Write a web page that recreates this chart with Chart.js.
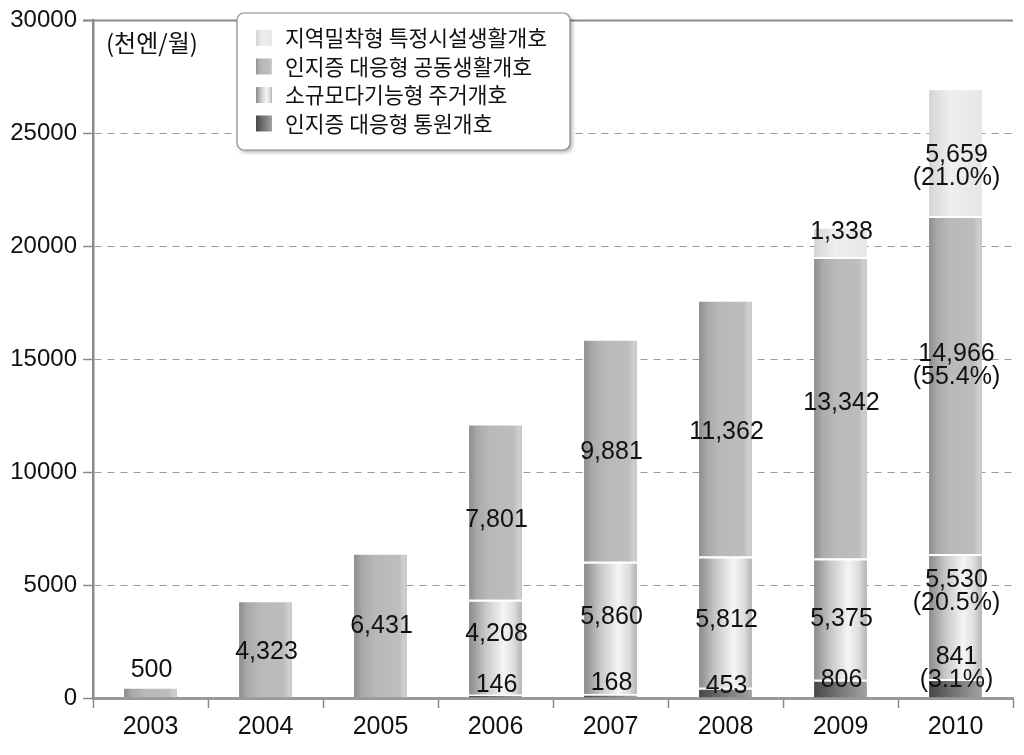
<!DOCTYPE html>
<html>
<head>
<meta charset="utf-8">
<script src="https://cdn.jsdelivr.net/npm/chart.js@4"></script>
<style>
  html, body { margin: 0; padding: 0; background: #fff; }
  #wrap { width: 1024px; height: 755px; }
</style>
</head>
<body>
<div id="wrap"><canvas id="barChart"></canvas></div>
<script>
// data
const years = ['2003', '2004', '2005', '2006', '2007', '2008', '2009', '2010'];
const seriesNames = ['인지증 대응형 통원개호', '소규모다기능형 주거개호', '인지증 대응형 공동생활개호', '지역밀착형 특정시설생활개호'];
const tongwon = [null, null, null, 146, 168, 453, 806, 841];
const jugeo = [null, null, null, 4208, 5860, 5812, 5375, 5530];
const gongdong = [500, 4323, 6431, 7801, 9881, 11362, 13342, 14966];
const teukjeong = [null, null, null, null, null, null, 1338, 5659];
const yTicks = [0, 5000, 10000, 15000, 20000, 25000, 30000];
const unitLabel = '(천엔/월)';
const pctYear = '2010';

const NUM_FONT = "'Liberation Sans', Arial, sans-serif";
const KR_FONT = "'Noto Sans CJK KR', 'Noto Sans', sans-serif";
const BAR_PCT = 0.46;

// gradient stops per series
const stops = [
  [[0, '#474747'], [0.5, '#777777'], [1, '#a2a2a2']],
  [[0, '#8a8a8a'], [0.3, '#c6c6c6'], [0.65, '#f5f5f5'], [0.85, '#dddddd'], [1, '#b3b3b3']],
  [[0, '#8c8c8c'], [0.15, '#a9a9a9'], [0.4, '#b9b9b9'], [0.85, '#bdbdbd'], [0.94, '#d0d0d0'], [1, '#c3c3c3']],
  [[0, '#d4d4d4'], [0.4, '#efefef'], [1, '#e6e6e6']]
];
const flat = ['#666', '#ddd', '#b8b8b8', '#eaeaea'];

function makeGrad(ctx, x0, x1, si) {
  const g = ctx.createLinearGradient(x0, 0, x1, 0);
  stops[si].forEach(s => g.addColorStop(s[0], s[1]));
  return g;
}

function barFill(si) {
  return function(c) {
    const chart = c.chart;
    if (!chart.chartArea || !chart.scales.x) return flat[si];
    const xs = chart.scales.x;
    const cx = xs.getPixelForValue(c.dataIndex);
    const w = xs.width / years.length * BAR_PCT;
    return makeGrad(chart.ctx, cx - w / 2, cx + w / 2, si);
  };
}

const labelsPlugin = {
  id: 'segLabels',
  afterDatasetsDraw(chart, args, opts) {
    const ctx = chart.ctx;
    ctx.save();
    ctx.font = '25px ' + NUM_FONT;
    ctx.fillStyle = '#111';
    ctx.textAlign = 'center';
    ctx.textBaseline = 'middle';
    const pi = years.indexOf(pctYear);
    let total = 0;
    chart.data.datasets.forEach(ds => { total += ds.data[pi] || 0; });
    chart.data.datasets.forEach((ds, di) => {
      const meta = chart.getDatasetMeta(di);
      meta.data.forEach((bar, i) => {
        const v = ds.data[i];
        if (v == null) return;
        const lines = [v.toLocaleString('en-US')];
        if (i === pi) lines.push('(' + (v / total * 100).toFixed(1) + '%)');
        const cy = (bar.y + bar.base) / 2 + (opts.shift[di + '-' + i] || 0);
        const lh = 23;
        lines.forEach((t, k) => {
          ctx.fillText(t, bar.x + 1, cy + (k - (lines.length - 1) / 2) * lh);
        });
      });
    });
    ctx.restore();
  }
};

const framePlugin = {
  id: 'frame',
  afterDraw(chart) {
    const ctx = chart.ctx;
    const a = chart.chartArea;
    ctx.save();
    // top line
    ctx.strokeStyle = '#8a8a8a';
    ctx.lineWidth = 2;
    ctx.beginPath();
    ctx.moveTo(a.left - 10, a.top);
    ctx.lineTo(a.right, a.top);
    ctx.stroke();

    // unit
    ctx.fillStyle = '#111';
    ctx.font = '24px ' + KR_FONT;
    ctx.textBaseline = 'middle';
    ctx.fillText(unitLabel, a.left + 13, 43);

    // legend box
    const bx = 237, by = 13, bw = 333, bh = 137, r = 7;
    ctx.save();
    ctx.shadowColor = 'rgba(0,0,0,0.35)';
    ctx.shadowBlur = 4;
    ctx.shadowOffsetX = 2;
    ctx.shadowOffsetY = 2;
    ctx.fillStyle = '#fff';
    ctx.beginPath();
    ctx.roundRect(bx, by, bw, bh, r);
    ctx.fill();
    ctx.restore();
    ctx.strokeStyle = '#8a8a8a';
    ctx.lineWidth = 1.2;
    ctx.beginPath();
    ctx.roundRect(bx, by, bw, bh, r);
    ctx.stroke();

    ctx.font = '21.5px ' + KR_FONT;
    ctx.fillStyle = '#111';
    const order = [3, 2, 1, 0];
    order.forEach((si, k) => {
      const y = 38 + k * 28.5;
      ctx.fillStyle = makeGrad(ctx, 256, 272, si);
      ctx.fillRect(256, y - 8, 16, 16);
      ctx.fillStyle = '#111';
      ctx.fillText(seriesNames[si], 285, y);
    });
    ctx.restore();
  }
};

function ds(label, data, si) {
  return {
    label: label,
    data: data,
    backgroundColor: barFill(si),
    borderColor: '#ffffff',
    borderWidth: { top: 2, left: 0, right: 0, bottom: 0 },
    borderSkipped: 'start'
  };
}

const ctx1 = document.getElementById('barChart');
var barChart = new Chart(ctx1, {
  type: 'bar',
  data: {
    labels: years,
    datasets: [
      ds(seriesNames[0], tongwon, 0),
      ds(seriesNames[1], jugeo, 1),
      ds(seriesNames[2], gongdong, 2),
      ds(seriesNames[3], teukjeong, 3)
    ]
  },
  options: {
    responsive: true,
    maintainAspectRatio: false,
    animation: false,
    layout: { padding: { left: 0, right: 11, top: 20, bottom: 0 } },
    categoryPercentage: 1,
    barPercentage: BAR_PCT,
    plugins: {
      legend: { display: false },
      tooltip: { enabled: false },
      segLabels: {
        shift: {
          '0-3': -11, '0-4': -13, '0-5': -7, '0-6': -9, '0-7': -20,
          '1-3': -13, '1-4': -11, '1-5': -2, '1-6': 0, '1-7': -25,
          '2-0': -22, '2-1': 3, '2-2': 1, '2-3': 9, '2-4': 2, '2-5': 4, '2-6': -5, '2-7': -19,
          '3-6': -10, '3-7': 14
        }
      }
    },
    scales: {
      x: {
        stacked: true,
        afterFit: s => { s.height = 57; },
        grid: {
          drawOnChartArea: false,
          drawTicks: true,
          tickLength: 10,
          tickColor: '#8a8a8a',
          tickWidth: 1.5,
          offset: true
        },
        border: { color: '#999', width: 3 },
        ticks: {
          color: '#111',
          font: { family: NUM_FONT, size: 25 },
          padding: 4
        }
      },
      y: {
        stacked: true,
        min: 0,
        max: 30000,
        afterFit: s => { s.width = 93; },
        afterBuildTicks: s => { s.ticks = yTicks.map(v => ({ value: v })); },
        grid: {
          color: '#999',
          lineWidth: 1,
          drawTicks: true,
          tickLength: 10,
          tickColor: '#8a8a8a',
          tickWidth: 1.5,
          tickBorderDash: []
        },
        border: { color: '#8a8a8a', width: 2.5, dash: [7, 6] },
        ticks: {
          color: '#111',
          font: { family: NUM_FONT, size: 24 },
          padding: 6,
          callback: v => String(v)
        }
      }
    }
  },
  plugins: [labelsPlugin, framePlugin]
});
</script>
</body>
</html>
